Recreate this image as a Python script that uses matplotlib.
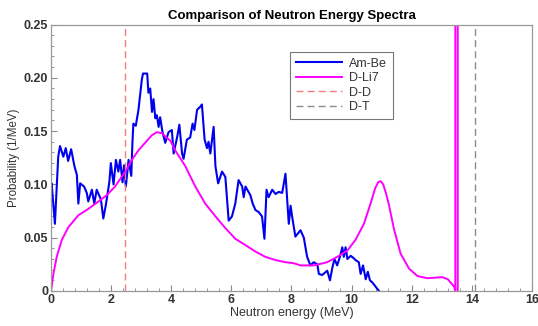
# Neutron energy spectra comparison

import numpy as np
import matplotlib.pyplot as plt
from matplotlib.ticker import MultipleLocator, AutoMinorLocator, FuncFormatter

plt.rcParams['font.family'] = ['Liberation Sans', 'DejaVu Sans']

# Am-Be spectrum
ambe_e = [0.0, 0.02, 0.13, 0.24, 0.3, 0.41, 0.49, 0.57, 0.67, 0.78, 0.86, 0.91, 0.97,
          1.1, 1.19, 1.24, 1.36, 1.44, 1.52, 1.66, 1.74, 1.82, 1.94, 1.99, 2.08, 2.16,
          2.24, 2.3, 2.38, 2.43, 2.49, 2.58, 2.67, 2.71, 2.74, 2.82, 2.91, 3.02, 3.06,
          3.2, 3.24, 3.3, 3.36, 3.41, 3.47, 3.52, 3.58, 3.63, 3.71, 3.8, 3.91, 4.02,
          4.08, 4.2, 4.27, 4.36, 4.41, 4.52, 4.63, 4.71, 4.77, 4.86, 4.97, 5.02, 5.11,
          5.19, 5.24, 5.3, 5.41, 5.47, 5.56, 5.69, 5.8, 5.91, 6.02, 6.13, 6.24, 6.36,
          6.41, 6.47, 6.63, 6.71, 6.8, 6.91, 7.02, 7.1, 7.17, 7.24, 7.36, 7.47, 7.58,
          7.69, 7.8, 7.86, 7.91, 7.97, 8.02, 8.13, 8.3, 8.41, 8.52, 8.63, 8.74, 8.86,
          8.91, 9.02, 9.19, 9.28, 9.36, 9.43, 9.52, 9.61, 9.69, 9.74, 9.8, 9.86, 9.97,
          10.06, 10.13, 10.24, 10.3, 10.38, 10.47, 10.54, 10.61, 10.69, 10.8, 10.91]
ambe_p = [0.098, 0.101, 0.063, 0.126, 0.136, 0.126, 0.134, 0.122, 0.133, 0.117, 0.109,
          0.082, 0.101, 0.098, 0.092, 0.084, 0.095, 0.082, 0.095, 0.086, 0.068, 0.08,
          0.102, 0.12, 0.10, 0.123, 0.112, 0.123, 0.102, 0.118, 0.098, 0.123, 0.108,
          0.14, 0.157, 0.155, 0.17, 0.198, 0.204, 0.204, 0.186, 0.19, 0.168, 0.18,
          0.162, 0.165, 0.154, 0.163, 0.149, 0.139, 0.149, 0.151, 0.129, 0.145, 0.156,
          0.129, 0.124, 0.142, 0.144, 0.157, 0.151, 0.17, 0.173, 0.175, 0.142, 0.134,
          0.14, 0.129, 0.154, 0.117, 0.101, 0.112, 0.107, 0.066, 0.07, 0.082, 0.104,
          0.098, 0.088, 0.098, 0.09, 0.082, 0.076, 0.074, 0.07, 0.049, 0.095, 0.088,
          0.095, 0.091, 0.093, 0.092, 0.110, 0.085, 0.063, 0.08, 0.07, 0.051, 0.057,
          0.05, 0.032, 0.024, 0.027, 0.025, 0.016, 0.015, 0.019, 0.01, 0.022, 0.030,
          0.024, 0.032, 0.041, 0.032, 0.041, 0.03, 0.033, 0.031, 0.029, 0.027, 0.016,
          0.024, 0.011, 0.018, 0.01, 0.008, 0.004, 0.0]

# D-Li7 spectrum
dli_e = [0.0, 0.08, 0.19, 0.36, 0.58, 0.91, 1.24, 1.58, 1.86, 2.13, 2.47, 2.69, 2.91,
         3.13, 3.35, 3.52, 3.7, 3.8, 3.97, 4.13, 4.47, 4.8, 5.13, 5.47, 5.8, 6.13, 6.47,
         6.8, 7.13, 7.47, 7.8, 8.08, 8.3, 8.74, 9.19, 9.52, 9.86, 10.13, 10.41, 10.63,
         10.78, 10.88, 10.97, 11.05, 11.14, 11.24, 11.41, 11.63, 11.91, 12.19, 12.52,
         12.8, 13.02, 13.2, 13.41, 13.45, 13.45, 13.53, 13.53]
dli_p = [0.0, 0.016, 0.032, 0.048, 0.06, 0.071, 0.077, 0.084, 0.09, 0.098, 0.112, 0.123,
         0.132, 0.139, 0.146, 0.149, 0.148, 0.145, 0.141, 0.132, 0.117, 0.098, 0.082,
         0.07, 0.059, 0.049, 0.043, 0.037, 0.032, 0.029, 0.027, 0.026, 0.024, 0.024,
         0.027, 0.032, 0.038, 0.048, 0.063, 0.082, 0.096, 0.102, 0.103, 0.100, 0.092,
         0.081, 0.058, 0.035, 0.021, 0.014, 0.012, 0.0125, 0.013, 0.011, 0.004, 0.0,
         0.6, 0.6, 0.0]

dd_energy = 2.45
dt_energy = 14.1

fig = plt.figure(figsize=(5.38, 3.26), dpi=100)
ax = fig.add_axes([0.0948, 0.1074, 0.894, 0.8174])

ax.plot(ambe_e, ambe_p, color='#0000ee', lw=1.5, label='Am-Be')
ax.plot(dli_e, dli_p, color='#ff00ff', lw=1.4, label='D-Li7')
ax.axvline(dd_energy, color='#f47c7c', lw=1.0, ls=(0, (5, 3)), label='D-D')
ax.axvline(dt_energy, color='#8c8c8c', lw=1.0, ls=(0, (5, 3)), label='D-T')

ax.set_xlim(0, 16)
ax.set_ylim(0, 0.25)
ax.xaxis.set_major_locator(MultipleLocator(2))
ax.xaxis.set_minor_locator(AutoMinorLocator(5))
ax.yaxis.set_major_locator(MultipleLocator(0.05))
ax.yaxis.set_minor_locator(AutoMinorLocator(5))
ax.yaxis.set_major_formatter(FuncFormatter(lambda v, p: '0' if abs(v) < 1e-9 else f'{v:.2f}'))
ax.xaxis.set_major_formatter(FuncFormatter(lambda v, p: f'{v:.0f}'))

ax.tick_params(which='both', direction='in', colors='#888888', labelcolor='#333333',
               labelsize=9, pad=2)
ax.tick_params(which='major', length=4, width=0.8)
ax.tick_params(which='minor', length=2, width=0.6)
for lab in ax.get_xticklabels() + ax.get_yticklabels():
    lab.set_fontweight('bold')
for s in ax.spines.values():
    s.set_color('#999999')
    s.set_linewidth(0.9)

ax.set_title('Comparison of Neutron Energy Spectra', fontsize=9.5, fontweight='bold', pad=4)
ax.set_xlabel('Neutron energy (MeV)', fontsize=9, color='#333333', labelpad=1)
ax.set_ylabel('Probability (1/MeV)', fontsize=8.3, color='#333333', labelpad=3)

leg = ax.legend(loc='upper left', bbox_to_anchor=(0.497, 0.897), borderaxespad=0,
                fontsize=9, handlelength=3.7, handletextpad=0.6, labelspacing=0.2,
                fancybox=False, edgecolor='#777777', framealpha=1, borderpad=0.45)
leg.get_frame().set_linewidth(0.8)
for t in leg.get_texts():
    t.set_color('#333333')

plt.savefig('out.png', dpi=100)
